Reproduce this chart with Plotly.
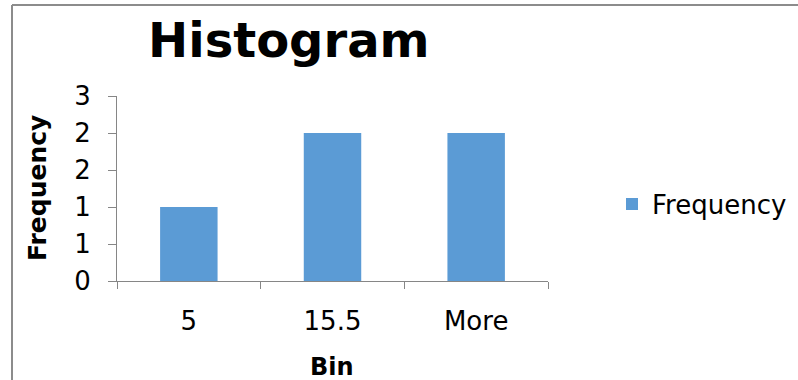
import plotly.graph_objects as go

categories = ["5", "15.5", "More"]
frequency = [1, 2, 2]
y_tickvals = [0, 0.5, 1, 1.5, 2, 2.5]
y_ticktext = ["0", "1", "1", "2", "2", "3"]

W, H = 798, 380
L, R, T, B = 117, 250, 96, 99
pw, ph = W - L - R, H - T - B

def px(x):
    return (x - L) / pw

def py(y):
    return (H - B - y) / ph

FONT = "DejaVu Sans, Verdana, sans-serif"
AX = "#868686"

fig = go.Figure()
fig.add_trace(go.Bar(
    x=categories, y=frequency, name="Frequency",
    marker=dict(color="#5B9BD5", line=dict(width=0)),
    width=0.4, showlegend=True,
))

fig.update_layout(
    width=W, height=H,
    margin=dict(l=L, r=R, t=T, b=B, pad=0, autoexpand=False),
    paper_bgcolor="white", plot_bgcolor="white",
    font=dict(family=FONT, size=26, color="black"),
    showlegend=True,
    legend=dict(x=px(612), y=py(204), xanchor="left", yanchor="middle",
                font=dict(size=26, family=FONT, color="black"),
                bgcolor="rgba(0,0,0,0)", itemwidth=30),
    xaxis=dict(
        type="category", range=[-0.5, 2.5],
        showline=True, linecolor=AX, linewidth=1,
        ticks="outside", ticklen=7, tickcolor=AX, tickwidth=1,
        tickson="boundaries", showgrid=False, zeroline=False,
        tickfont=dict(size=26, family=FONT, color="black"),
        ticklabelstandoff=17,
    ),
    yaxis=dict(
        range=[0, 2.5], tickvals=y_tickvals, ticktext=y_ticktext,
        showline=True, linecolor=AX, linewidth=1,
        ticks="outside", ticklen=8, tickcolor=AX, tickwidth=1,
        showgrid=False, zeroline=False,
        tickfont=dict(size=26, family=FONT, color="black"),
        ticklabelstandoff=12,
    ),
    annotations=[
        dict(text="<b>Histogram</b>", xref="paper", yref="paper",
             x=px(289), y=py(40), xanchor="center", yanchor="middle",
             showarrow=False, font=dict(size=48, family=FONT, color="black")),
        dict(text="<b>Bin</b>", xref="paper", yref="paper",
             x=px(332), y=py(367), xanchor="center", yanchor="middle",
             showarrow=False, font=dict(size=24, family=FONT, color="black")),
        dict(text="<b>Frequency</b>", xref="paper", yref="paper",
             x=px(37), y=py(188), xanchor="center", yanchor="middle",
             textangle=-90,
             showarrow=False, font=dict(size=25, family=FONT, color="black")),
    ],
    shapes=[
        dict(type="line", xref="paper", yref="paper",
             x0=px(12), y0=py(5), x1=px(798), y1=py(5),
             line=dict(color="#8c8c8c", width=2)),
        dict(type="line", xref="paper", yref="paper",
             x0=px(12), y0=py(5), x1=px(12), y1=py(380),
             line=dict(color="#8c8c8c", width=2)),
    ],
)

fig.write_html("out.html")
